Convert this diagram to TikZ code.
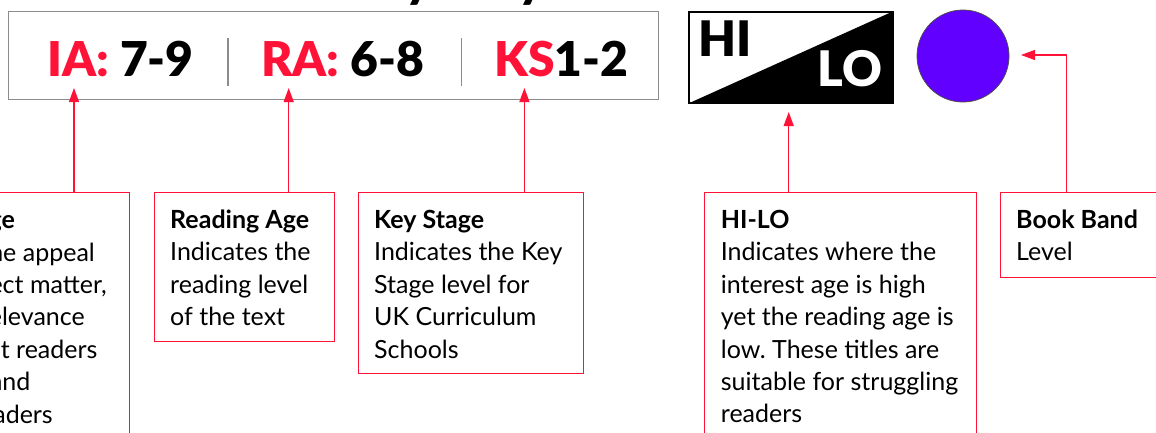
\documentclass[tikz,border=0pt]{standalone}
\usepackage{fontspec}
\setmainfont{Lato}
\newfontfamily\heavyfont{Lato Black}
\frenchspacing
\usetikzlibrary{arrows.meta}
\definecolor{kred}{RGB}{255,18,55}
\definecolor{kpurple}{RGB}{98,0,255}
\definecolor{kgray}{RGB}{140,140,140}
\tikzset{
  redbox/.style={draw=kred, line width=1.2pt, inner sep=0pt, anchor=north west},
  body/.style={font=\fontsize{25}{32.4}\selectfont\frenchspacing, align=left, anchor=base west, inner sep=0pt},
  bodyline/.style={font=\fontsize{25}{32.4}\selectfont, anchor=base east, inner sep=0pt},
  big/.style={font=\fontsize{48}{48}\selectfont\heavyfont, anchor=base west, inner sep=0pt},
  heavy/.style={font=\fontsize{49}{49}\selectfont\heavyfont, inner sep=0pt},
  con/.style={draw=kred, line width=1.2pt, -{Triangle[length=14pt,width=10pt]}},
  sep/.style={draw=kgray, line width=1.5pt}
}
\begin{document}
\begin{tikzpicture}[x=1pt,y=-1pt]
\useasboundingbox (0,0) rectangle (1156,432);
\clip (0,0) rectangle (1156,432);

% title fragments (cut off at top)
\node[big, anchor=base] (t1) at (418,-3) {y};
\node[big, anchor=base] (t2) at (531,-3) {y};

% key box
\node[draw=kgray, line width=1.3pt, minimum width=650pt, minimum height=88pt, anchor=north west, inner sep=0pt] (keybox) at (7.6,11) {};
\node[big] (ia) at (47,76.7) {\textcolor{kred}{IA:} 7-9};
\node[big] (ra) at (261,76.7) {\textcolor{kred}{RA:} 6-8};
\node[big] (ks) at (494,76.7) {\textcolor{kred}{KS}1-2};
\draw[sep] (228,38) -- (228,86);
\draw[sep] (461.7,38) -- (461.7,86);

% HI-LO badge
\node[draw=black, line width=1.5pt, minimum width=204pt, minimum height=91pt, anchor=north west, inner sep=0pt] (hilo) at (688.3,11) {};
\fill[black] (hilo.south west) -- (hilo.north east) -- (hilo.south east) -- cycle;
\node[heavy, anchor=base west] (hi) at (698,56.7) {HI};
\node[heavy, anchor=base east, text=white] (lo) at (882.3,86.7) {LO};

% book band circle
\node[circle, draw=black!70, line width=0.8pt, fill=kpurple, minimum size=92pt, inner sep=0pt] (band) at (963,56) {};

% boxes
\node[redbox, minimum width=160pt, minimum height=300pt] (iabox) at (-31,192) {};
\node[redbox, minimum width=180pt, minimum height=149pt] (rabox) at (153.5,192) {};
\node[redbox, minimum width=225.5pt, minimum height=181pt] (ksbox) at (357.5,192) {};
\node[redbox, minimum width=272pt, minimum height=300pt] (hlbox) at (703.7,192) {};
\node[redbox, minimum width=200pt, minimum height=85pt] (bbbox) at (999.7,192) {};

% interest age text (cut off at left)
\node[bodyline] (ia1) at (15,228.5) {\textbf{Interest Age}};
\node[bodyline] (ia2) at (95,261) {Indicates the appeal};
\node[bodyline] (ia3) at (107,293.4) {of the subject matter,};
\node[bodyline] (ia4) at (85,325.8) {and its relevance};
\node[bodyline] (ia5) at (97.6,358.2) {to different readers};
\node[bodyline] (ia6) at (30.6,390.6) {ages and};
\node[bodyline] (ia7) at (53,423) {readers};

% multi-line nodes: base anchor is the last line's baseline
\node[body] (ratxt) at (170,325.7) {\textbf{Reading Age}\\Indicates the\\reading level\\of the text};
\node[body] (kstxt) at (374,358.1) {\textbf{Key Stage}\\Indicates the Key\\Stage level for\\UK Curriculum\\Schools};
\node[body] (hltxt) at (720.7,422.9) {\textbf{HI-LO}\\Indicates where the\\interest age is high\\yet the reading age is\\low. These titles are\\suitable for struggling\\readers};
\node[body] (bbtxt) at (1016,260.9) {\textbf{Book Band}\\Level};

% connectors
\coordinate (iatip) at (74,88);
\coordinate (ratip) at (288.7,88);
\coordinate (kstip) at (524.4,88);
\coordinate (hltip) at (788.7,112);
\coordinate (bbtip) at (1021,55);
\draw[con] (iatip |- iabox.north) -- (iatip);
\draw[con] (ratip |- rabox.north) -- (ratip);
\draw[con] (kstip |- ksbox.north) -- (kstip);
\draw[con] (hltip |- hlbox.north) -- (hltip);
\draw[con] ([xshift=67pt]bbbox.north west) |- (bbtip);
\end{tikzpicture}
\end{document}
